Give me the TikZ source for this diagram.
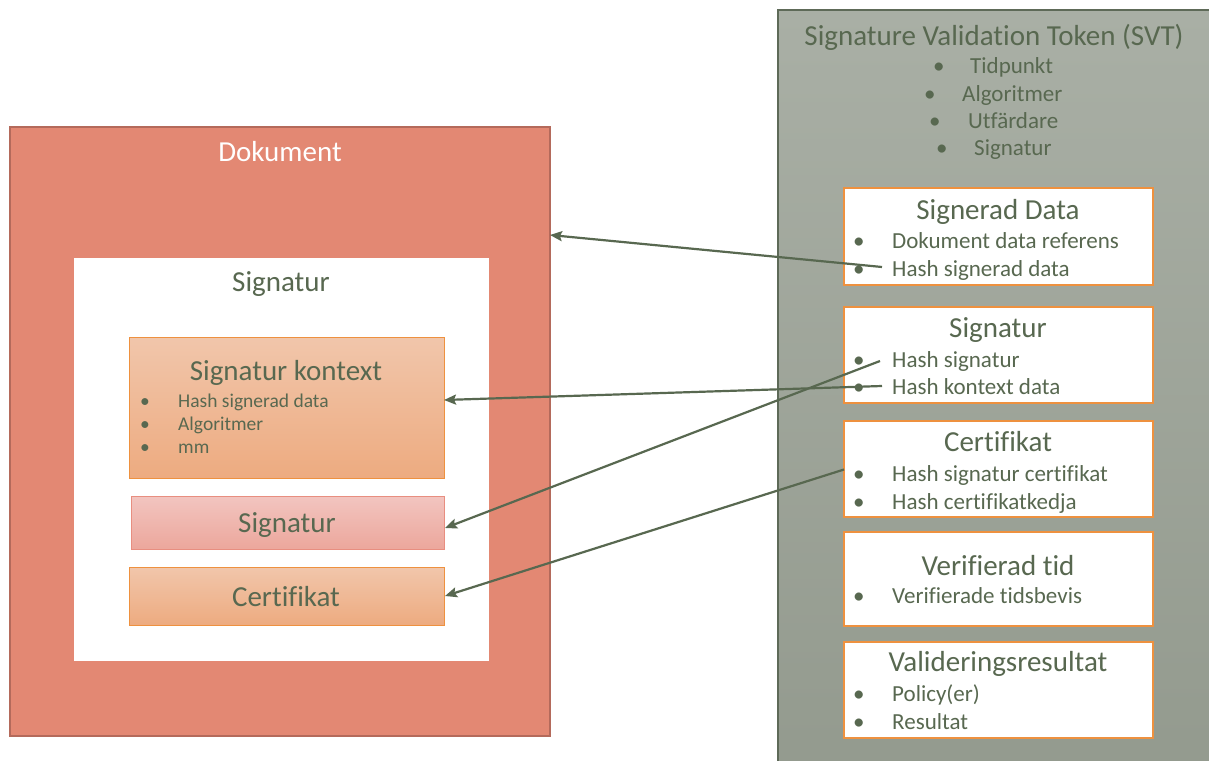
\documentclass[tikz,border=0pt]{standalone}
\usepackage{fontspec}
\setmainfont{Carlito}[Ligatures=NoCommon]
\usetikzlibrary{arrows.meta}
\definecolor{txt}{HTML}{586850}
\definecolor{docfill}{HTML}{E38873}
\definecolor{docline}{HTML}{B46A5B}
\definecolor{svttop}{HTML}{A9AFA5}
\definecolor{svtbot}{HTML}{939A8E}
\definecolor{svtline}{HTML}{5E6A58}
\definecolor{orline}{HTML}{EE913F}
\definecolor{ortop}{HTML}{F1C6AB}
\definecolor{orbot}{HTML}{EDAB80}
\definecolor{pktop}{HTML}{F2C5C0}
\definecolor{pkbot}{HTML}{ECA79C}
\definecolor{pkline}{HTML}{E88E80}
\tikzset{
  box/.style={anchor=north west, inner sep=0pt, outer sep=0pt, rectangle},
  wbox/.style={box, draw=orline, line width=1.3pt, fill=white},
  obox/.style={box, draw=orline, line width=1pt, top color=ortop, bottom color=orbot},
  title/.style={anchor=base, inner sep=0pt, text=txt, font=\fontsize{29}{34}\selectfont},
  bul/.style={anchor=base west, inner sep=0pt, text=txt, font=\fontsize{23}{28}\selectfont},
  sbul/.style={anchor=base west, inner sep=0pt, text=txt, font=\fontsize{19.5}{23}\selectfont},
  link/.style={draw=txt, line width=2.2pt, -{Stealth[length=12pt,width=10pt,inset=2pt]}},
}
\begin{document}
\begin{tikzpicture}[x=1pt,y=-1pt]
\clip (0,0) rectangle (1209,760);
\fill[white] (0,0) rectangle (1209,760);
% Dokument side
\node[box, draw=docline, line width=1.2pt, fill=docfill, minimum width=540pt, minimum height=609pt] (doc) at (10,127) {};
\node[title, text=white] (doctitle) at (280,161) {Dokument};
\node[box, fill=white, minimum width=415pt, minimum height=403pt] (wrap) at (74,258) {};
\node[title] (wraptitle) at (281,291) {Signatur};
\node[obox, minimum width=315pt, minimum height=141pt] (kontext) at (129,337) {};
\node[title] (kontexttitle) at (286,380) {Signatur kontext};
\node[sbul] (kb1) at (140,407) {•};
\node[sbul] (kt1) at (178,407) {Hash signerad data};
\node[sbul] (kb2) at (140,430) {•};
\node[sbul] (kt2) at (178,430) {Algoritmer};
\node[sbul] (kb3) at (140,453) {•};
\node[sbul] (kt3) at (178,453) {mm};
\node[box, draw=pkline, line width=1pt, top color=pktop, bottom color=pkbot, minimum width=313pt, minimum height=53pt] (sigbox) at (131,496) {};
\node[title] (sigtext) at (287,532) {Signatur};
\node[obox, minimum width=315pt, minimum height=58pt] (certbox) at (129,567) {};
\node[title] (certtext) at (286,606) {Certifikat};
% SVT side
\node[box, draw=svtline, line width=1.2pt, top color=svttop, bottom color=svtbot, minimum width=450pt, minimum height=770pt] (svt) at (778,10) {};
\node[title] (svttitle) at (994,46) {Signature Validation Token (SVT)};
\node[bul] (hb1) at (933,74) {•};
\node[bul] (ht1) at (970,74) {Tidpunkt};
\node[bul] (hb2) at (924,101) {•};
\node[bul] (ht2) at (962,101) {Algoritmer};
\node[bul] (hb3) at (929,128) {•};
\node[bul] (ht3) at (968,128) {Utfärdare};
\node[bul] (hb4) at (936,155) {•};
\node[bul] (ht4) at (974,155) {Signatur};
% Signerad Data
\node[wbox, minimum width=309pt, minimum height=97pt] (sd) at (844,188) {};
\node[title] (sdt) at (998,219) {Signerad Data};
\node[bul] (sdb1) at (853,248) {•};
\node[bul] (sdt1) at (892,248) {Dokument data referens};
\node[bul] (sdb2) at (853,276) {•};
\node[bul] (sdt2) at (892,276) {Hash signerad data};
% Signatur
\node[wbox, minimum width=309pt, minimum height=96pt] (ss) at (844,307) {};
\node[title] (sst) at (998,337) {Signatur};
\node[bul] (ssb1) at (853,367) {•};
\node[bul] (sst1) at (892,367) {Hash signatur};
\node[bul] (ssb2) at (853,394) {•};
\node[bul] (sst2) at (892,394) {Hash kontext data};
% Certifikat
\node[wbox, minimum width=309pt, minimum height=96pt] (sc) at (844,421) {};
\node[title] (sct) at (998,451) {Certifikat};
\node[bul] (scb1) at (853,481) {•};
\node[bul] (sct1) at (892,481) {Hash signatur certifikat};
\node[bul] (scb2) at (853,509) {•};
\node[bul] (sct2) at (892,509) {Hash certifikatkedja};
% Verifierad tid
\node[wbox, minimum width=309pt, minimum height=94pt] (sv) at (844,532) {};
\node[title] (svtt) at (998,575) {Verifierad tid};
\node[bul] (svb1) at (853,603) {•};
\node[bul] (svt1) at (892,603) {Verifierade tidsbevis};
% Valideringsresultat
\node[wbox, minimum width=309pt, minimum height=96pt] (sr) at (844,642) {};
\node[title] (srt) at (998,671) {Valideringsresultat};
\node[bul] (srb1) at (853,701) {•};
\node[bul] (srt1) at (892,701) {Policy(er)};
\node[bul] (srb2) at (853,729) {•};
\node[bul] (srt2) at (892,729) {Resultat};
% connectors
\coordinate (a1) at (882,267);
\coordinate (a2) at (882,386);
\coordinate (a3) at (880,361);
\draw[link] (a1) -- ([yshift=-108pt]doc.north east);
\draw[link] (a2) -- ([yshift=7.5pt]kontext.east);
\draw[link] (a3) -- ([xshift=1pt,yshift=-5.5pt]sigbox.east);
\draw[link] ([yshift=-0.5pt]sc.west) -- ([xshift=1pt]certbox.east);
\end{tikzpicture}
\end{document}
